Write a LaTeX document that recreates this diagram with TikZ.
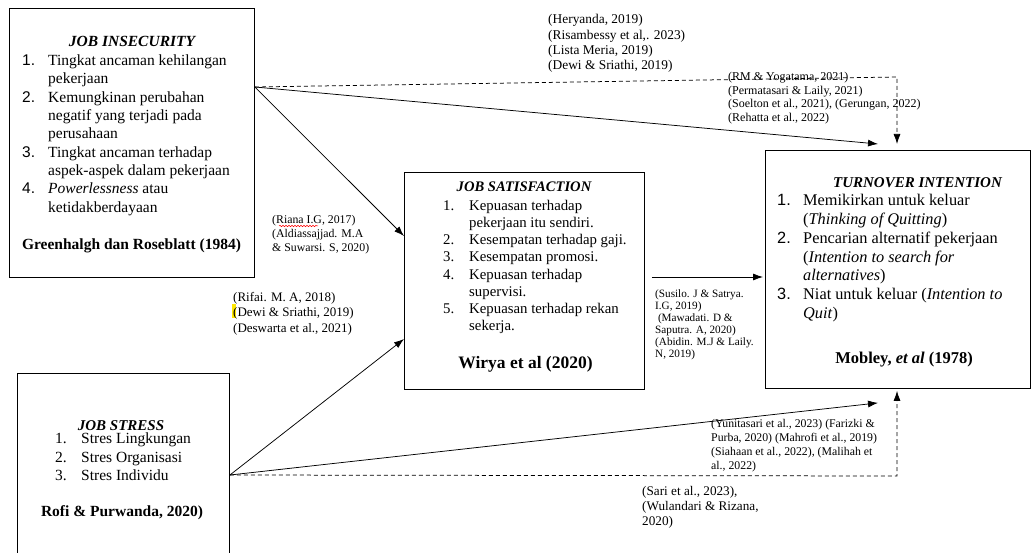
\documentclass[tikz,border=0pt]{standalone}
\usepackage{fontspec}
\setmainfont{Liberation Serif}
\newfontfamily\numsans{Liberation Sans}
\usetikzlibrary{arrows.meta,calc,decorations.pathmorphing}
\newlength\numw
\newcommand\lnum[1]{\makebox[\numw][l]{#1}}
\newcommand\lcont{\hspace*{\numw}}
\newcommand\cit[3]{{\fontsize{#1}{#2}\selectfont\begin{tabular}[t]{@{}l@{}}#3\end{tabular}}}
\newcommand\lst[4]{{\fontsize{#1}{#2}\selectfont\setlength\numw{#3}\begin{tabular}[t]{@{}l@{}}#4\end{tabular}}}
\begin{document}
\begin{tikzpicture}[x=1pt,y=-1pt,
  box/.style={draw, line width=0.9pt, inner sep=0pt, anchor=north west},
  txt/.style={inner sep=0pt, anchor=base west},
  ttl/.style={inner sep=0pt, anchor=base, font=\fontsize{15}{18}\selectfont\bfseries\itshape},
  refl/.style={inner sep=0pt, anchor=base, font=\fontsize{15.5}{18}\selectfont\bfseries},
  conn/.style={line width=0.75pt, -{Latex[length=10pt,width=7pt]}},
  dconn/.style={conn, dash pattern=on 4pt off 3pt}]
\useasboundingbox (0,0) rectangle (1032,553);
\fill[white] (0,0) rectangle (1032,553);
\path[clip] (0,0) rectangle (1032,553);

% boxes
\node[box, minimum width=245pt, minimum height=269pt] (ji) at (9,8) {};
\node[box, minimum width=240pt, minimum height=217pt] (js) at (404,172) {};
\node[box, minimum width=265pt, minimum height=238pt] (ti) at (765,150) {};
\node[box, minimum width=212pt, minimum height=200pt] (st) at (17,373) {};

% job insecurity
\node[ttl, font=\fontsize{15.5}{18}\selectfont\bfseries\itshape] (jit) at (132,47) {JOB INSECURITY};
\node[txt] (jil) at (22,65.5) {\lst{15.5}{18.35}{26pt}{%
\lnum{\numsans 1.}Tingkat ancaman kehilangan\\
\lcont pekerjaan\\
\lnum{\numsans 2.}Kemungkinan perubahan\\
\lcont negatif yang terjadi pada\\
\lcont perusahaan\\
\lnum{\numsans 3.}Tingkat ancaman terhadap\\
\lcont aspek-aspek dalam pekerjaan\\
\lnum{\numsans 4.}\textit{Powerlessness} atau\\
\lcont ketidakberdayaan}};
\node[refl] (jir) at (131.5,249.5) {Greenhalgh dan Roseblatt (1984)};

% job satisfaction
\node[ttl, font=\fontsize{14.6}{18}\selectfont\bfseries\itshape] (jst) at (524,192) {JOB SATISFACTION};
\node[txt] (jsl) at (443,210.4) {\lst{14.8}{17.2}{26pt}{%
\lnum{1.}Kepuasan terhadap\\
\lcont pekerjaan itu sendiri.\\
\lnum{2.}Kesempatan terhadap gaji.\\
\lnum{3.}Kesempatan promosi.\\
\lnum{4.}Kepuasan terhadap\\
\lcont supervisi.\\
\lnum{5.}Kepuasan terhadap rekan\\
\lcont sekerja.}};
\node[refl, font=\fontsize{17.5}{20}\selectfont\bfseries] (jsr) at (525.5,368.5) {Wirya et al (2020)};

% turnover intention
\node[ttl] (tit) at (917.5,188) {TURNOVER INTENTION};
\node[txt] (til) at (777,206) {\lst{16.3}{18.7}{26pt}{%
\lnum{\numsans 1.}Memikirkan untuk keluar\\
\lcont (\textit{Thinking of Quitting})\\
\lnum{\numsans 2.}Pencarian alternatif pekerjaan\\
\lcont (\textit{Intention to search for}\\
\lcont \textit{alternatives})\\
\lnum{\numsans 3.}Niat untuk keluar (\textit{Intention to}\\
\lcont \textit{Quit})}};
\node[refl, font=\fontsize{16.5}{19}\selectfont\bfseries] (tir) at (904,363) {Mobley, \textit{et al} (1978)};

% job stress
\node[ttl] (stt) at (121,430) {JOB STRESS};
\node[txt] (stl) at (55,443.5) {\lst{15.5}{18.5}{26pt}{%
\lnum{1.}Stres Lingkungan\\
\lnum{2.}Stres Organisasi\\
\lnum{3.}Stres Individu}};
\node[refl] (str) at (122,516.5) {Rofi \& Purwanda, 2020)};

% citations
\node[txt] (c1) at (548,24) {\cit{13.4}{15.3}{(Heryanda, 2019)\\(Risambessy et al,. 2023)\\(Lista Meria, 2019)\\(Dewi \& Sriathi, 2019)}};
\node[txt] (c2) at (728,80.6) {\cit{12}{13.7}{(RM \& Yogatama, 2021)\\(Permatasari \& Laily, 2021)\\(Soelton et al., 2021), (Gerungan, 2022)\\(Rehatta et al., 2022)}};
\draw[red, line width=0.5pt, decorate, decoration={snake, amplitude=0.7pt, segment length=3pt}] (279,226) -- (318,226);
\node[txt] (c3) at (272,223.5) {\cit{11.8}{14}{(Riana I.G, 2017)\\(Aldiassajjad. M.A\\\& Suwarsi. S, 2020)}};
\fill[yellow!90!orange] (232,304) rectangle (235.5,318);
\node[txt] (c4) at (233,301) {\cit{13}{15.5}{(Rifai. M. A, 2018)\\(Dewi \& Sriathi, 2019)\\(Deswarta et al., 2021)}};
\node[txt] (c5) at (655,297.3) {\cit{11.2}{12}{(Susilo. J \& Satrya.\\I.G, 2019)\\\ (Mawadati. D \&\\Saputra. A, 2020)\\(Abidin. M.J \& Laily.\\N, 2019)}};
\node[txt] (c6) at (711,427.5) {\cit{11.8}{14}{(Yunitasari et al., 2023) (Farizki \&\\Purba, 2020) (Mahrofi et al., 2019)\\(Siahaan et al., 2022), (Malihah et\\al., 2022)}};
\node[txt] (c7) at (642,495) {\cit{13.2}{15.3}{(Sari et al., 2023),\\(Wulandari \& Rizana,\\2020)}};

% connector end points
\coordinate (jio) at ($(ji.north east)+(0,79)$);
\coordinate (sto) at ($(st.north east)+(0,102)$);
\coordinate (ti1) at ($(ti.north west)+(113,-6)$);
\coordinate (dk1) at (897,77);
\coordinate (ti2) at ($(ti.north west)+(132,-6)$);
\coordinate (js1) at ($(js.north west)+(0,64)$);
\coordinate (js2) at ($(js.north east)+(7,105)$);
\coordinate (ti3) at ($(ti.north west)+(-2,127)$);
\coordinate (js3) at ($(js.north west)+(0,167)$);
\coordinate (ti4) at ($(ti.south west)+(113,14)$);
\coordinate (dk2) at (897,476);
\coordinate (ti5) at ($(ti.south west)+(132,2)$);

% connectors
\draw[conn] (jio) -- (ti1);
\draw[dconn] (jio) -- (dk1) -- (ti2);
\draw[conn] (jio) -- (js1);
\draw[conn] (js2) -- (ti3);
\draw[conn] (sto) -- (js3);
\draw[conn] (sto) -- (ti4);
\draw[dconn] (sto) -- (dk2) -- (ti5);
\end{tikzpicture}
\end{document}
